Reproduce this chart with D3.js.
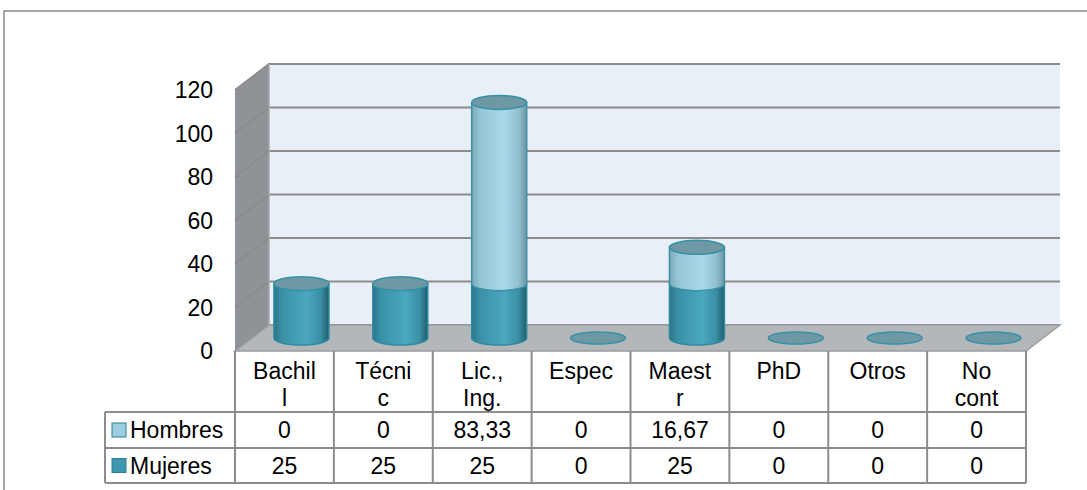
<!DOCTYPE html>
<html>
<head>
<meta charset="utf-8">
<script src="https://cdn.jsdelivr.net/npm/d3@7"></script>
<style>
  body { margin: 0; background: #fff; }
  text { font-family: "Liberation Sans", Arial, sans-serif; fill: #000; }
</style>
</head>
<body>
<div id="grafico"></div>
<script>
// Nivel académico por sexo (porcentajes)
const categorias = ["Bachil\nl", "Técni\nc", "Lic.,\nIng.", "Espec", "Maest\nr", "PhD", "Otros", "No\ncont"];
const hombres = [0, 0, 83.33, 0, 16.67, 0, 0, 0];
const mujeres = [25, 25, 25, 0, 25, 0, 0, 0];
const etiquetasHombres = ["0", "0", "83,33", "0", "16,67", "0", "0", "0"];
const etiquetasMujeres = ["25", "25", "25", "0", "25", "0", "0", "0"];
const ticks = [0, 20, 40, 60, 80, 100, 120];

const width = 1087;
const height = 490;
const fs = 23;

// plano frontal y profundidad del efecto 3D
const x0 = 235, x1 = 1026;
const dx = 34, dy = -26;

const svg = d3.select("#grafico")
    .append("svg")
    .attr("width", width)
    .attr("height", height);

const defs = svg.append("defs");
function grad(id, stops) {
    const g = defs.append("linearGradient").attr("id", id)
        .attr("x1", "0%").attr("x2", "100%").attr("y1", "0%").attr("y2", "0%");
    stops.forEach(s => g.append("stop").attr("offset", s[0]).attr("stop-color", s[1]));
}
grad("gMuj", [["0%", "#2b7589"], ["15%", "#3a91a7"], ["60%", "#4aa8c0"], ["85%", "#3a8ea4"], ["100%", "#1f5d6d"]]);
grad("gHom", [["0%", "#7ba9b8"], ["15%", "#95c6d6"], ["60%", "#abd9ea"], ["85%", "#93c0cf"], ["100%", "#6b95a3"]]);

// marco exterior
svg.append("path")
    .attr("d", `M4,${height + 5} L4,11 L${width + 5},11`)
    .attr("fill", "none")
    .attr("stroke", "#8a8a8a")
    .attr("stroke-width", 1.5);

const y = d3.scaleLinear().domain([0, 120]).range([351, 90]);

const x = d3.scaleBand()
    .domain(d3.range(categorias.length))
    .range([x0, x1]);

// pared del fondo
svg.append("rect")
    .attr("x", x0 + dx).attr("y", y(120) + dy)
    .attr("width", x1 - x0).attr("height", y(0) - y(120))
    .attr("fill", "#e8eff6");

// pared lateral
svg.append("path")
    .attr("d", `M${x0},${y(0)} L${x0},${y(120)} L${x0 + dx},${y(120) + dy} L${x0 + dx},${y(0) + dy} Z`)
    .attr("fill", "#8f9296");

// líneas de cuadrícula
ticks.forEach(t => {
    svg.append("path")
        .attr("d", `M${x0},${y(t)} L${x0 + dx},${y(t) + dy} L${x1 + dx},${y(t) + dy}`)
        .attr("fill", "none")
        .attr("stroke", "#8c8c8c")
        .attr("stroke-width", 2);
});
svg.append("line")
    .attr("x1", x0 + dx).attr("x2", x0 + dx)
    .attr("y1", y(120) + dy).attr("y2", y(0) + dy)
    .attr("stroke", "#a7a9ab").attr("stroke-width", 1.5);

// piso
svg.append("path")
    .attr("d", `M${x0},${y(0)} L${x0 + dx},${y(0) + dy} L${x1 + dx},${y(0) + dy} L${x1},${y(0)} Z`)
    .attr("fill", "#b4b7ba")
    .attr("stroke", "#9a9c9e")
    .attr("stroke-width", 1.5);

// etiquetas eje Y
svg.selectAll(".tick-label")
    .data(ticks)
    .enter()
    .append("text")
    .attr("x", 213)
    .attr("y", d => y(d))
    .attr("dy", "0.35em")
    .attr("text-anchor", "end")
    .style("font-size", fs + "px")
    .text(d => d);

// cilindros
const rx = 27.5, ry = 7;
const ym = v => y(v) + dy / 2;
function cuerpo(cx, vBase, vTop) {
    const yb = ym(vBase), yt = ym(vTop);
    return `M${cx - rx},${yt} L${cx - rx},${yb} A${rx},${ry} 0 0 0 ${cx + rx},${yb} L${cx + rx},${yt} Z`;
}
categorias.forEach((c, i) => {
    const cx = x(i) + x.bandwidth() / 2 + dx / 2;
    const m = mujeres[i], h = hombres[i];
    const g = svg.append("g");
    if (m > 0) {
        g.append("path").attr("d", cuerpo(cx, 0, m))
            .attr("fill", "url(#gMuj)").attr("stroke", "#2f8aa0").attr("stroke-width", 1.5);
    }
    if (h > 0) {
        g.append("path").attr("d", cuerpo(cx, m, m + h))
            .attr("fill", "url(#gHom)").attr("stroke", "#3d90a5").attr("stroke-width", 1.5);
    }
    const total = m + h;
    g.append("ellipse")
        .attr("cx", cx).attr("cy", ym(total))
        .attr("rx", rx).attr("ry", total > 0 ? ry : 6)
        .attr("fill", "#6d98a4")
        .attr("stroke", "#3591a8")
        .attr("stroke-width", 1.5);
});

// tabla de datos
const filas = [412, 448, 483];
const tabla = svg.append("g")
    .attr("stroke", "#8c8c8c")
    .attr("stroke-width", 2)
    .attr("fill", "none");
filas.forEach(fy => {
    tabla.append("line").attr("x1", 105).attr("x2", x1).attr("y1", fy).attr("y2", fy);
});
tabla.append("line").attr("x1", 105).attr("x2", 105).attr("y1", filas[0]).attr("y2", filas[2]);
d3.range(categorias.length + 1).forEach(i => {
    const xx = i < categorias.length ? x(i) : x1;
    tabla.append("line").attr("x1", xx).attr("x2", xx).attr("y1", y(0)).attr("y2", filas[2]);
});

// encabezados de categoría
categorias.forEach((c, i) => {
    const t = svg.append("text")
        .attr("x", x(i) + x.bandwidth() / 2)
        .attr("y", 379)
        .attr("text-anchor", "middle")
        .style("font-size", fs + "px");
    c.split("\n").forEach((linea, k) => {
        t.append("tspan")
            .attr("x", x(i) + x.bandwidth() / 2)
            .attr("dy", k === 0 ? 0 : 27)
            .text(linea);
    });
});

// valores
[etiquetasHombres, etiquetasMujeres].forEach((serie, r) => {
    svg.selectAll(".v" + r)
        .data(serie)
        .enter()
        .append("text")
        .attr("x", (d, i) => x(i) + x.bandwidth() / 2)
        .attr("y", (filas[r] + filas[r + 1]) / 2)
        .attr("dy", "0.36em")
        .attr("text-anchor", "middle")
        .style("font-size", fs + "px")
        .text(d => d);
});

// leyenda en la tabla
const series = [["Hombres", "#9ccfe0"], ["Mujeres", "#3d97ae"]];
series.forEach((s, r) => {
    const cy = (filas[r] + filas[r + 1]) / 2;
    svg.append("rect")
        .attr("x", 112).attr("y", cy - 7)
        .attr("width", 14).attr("height", 14)
        .attr("fill", s[1])
        .attr("stroke", "#2f7f94")
        .attr("stroke-width", 1);
    svg.append("text")
        .attr("x", 130)
        .attr("y", cy)
        .attr("dy", "0.36em")
        .style("font-size", fs + "px")
        .text(s[0]);
});
</script>
</body>
</html>
